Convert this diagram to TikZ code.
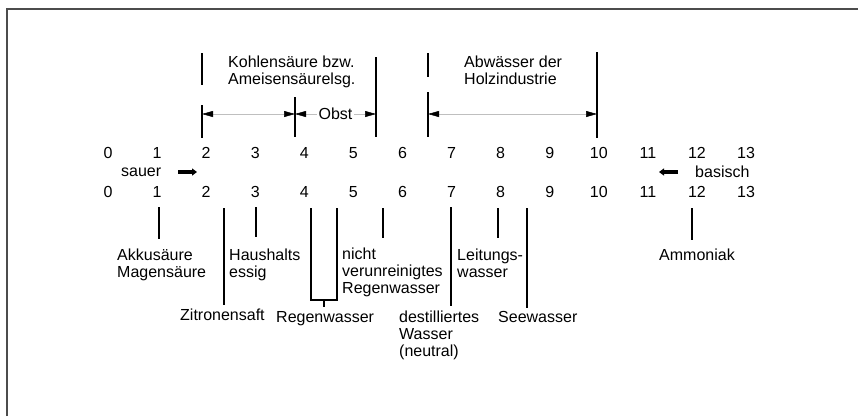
\documentclass[tikz,border=0pt]{standalone}
\usepackage{fontspec}
\setmainfont{Liberation Sans}
\usetikzlibrary{arrows.meta}
\begin{document}
\begin{tikzpicture}[x=1pt,y=-1pt,
  every node/.style={font=\fontsize{16}{17}\selectfont, inner sep=0pt, text=black},
  lbl/.style={align=left, anchor=north west},
  num/.style={anchor=center},
  conn/.style={line width=1.8pt, black},
  dim/.style={line width=0.5pt, black!25, {Triangle[length=11pt,width=6pt,color=black]}-{Triangle[length=11pt,width=6pt,color=black]}},
  thickarrow/.style={line width=3.5pt, -{Triangle[length=5pt,width=7pt]}}
]
\useasboundingbox (0,0) rectangle (858,416);
% frame
\draw[line width=2pt, black!70] (7,416) -- (7,9) -- (858,9);

% number rows
\foreach \p in {0,...,13} {
  \node[num] (t\p) at ({108+49.08*\p},153) {\p};
  \node[num] (b\p) at ({108+49.08*\p},192) {\p};
}

% sauer / basisch
\node[anchor=west] (sauer) at (121,172) {sauer};
\coordinate (sa1) at (178,172); \coordinate (sa2) at (197,172);
\draw[thickarrow] (sa1) -- (sa2);
\node[anchor=west] (basisch) at (695,172) {basisch};
\coordinate (ba1) at (678,172); \coordinate (ba2) at (659,172);
\draw[thickarrow] (ba1) -- (ba2);

% top labels
\node[lbl] (kohle) at (228,56) {Kohlensäure bzw.\\Ameisensäurelsg.};
\node[lbl] (abw) at (464,56) {Abwässer der\\Holzindustrie};

% top bracket lines
\draw[conn] (202,53) -- (202,85);
\draw[conn] (202,105) -- (202,138);
\draw[conn] (295,97) -- (295,137);
\draw[conn] (376,57) -- (376,137);
\draw[conn] (428,53) -- (428,77);
\draw[conn] (428,92) -- (428,137);
\draw[conn] (597,52) -- (597,138);

% dimension arrows
\coordinate (d1) at (202,114); \coordinate (d2) at (295,114);
\coordinate (d3) at (376,114); \coordinate (d4) at (428,114);
\coordinate (d5) at (597,114);
\draw[dim] (d1) -- (d2);
\draw[dim] (d2) -- node[fill=white, inner sep=2pt] (obst) {Obst} (d3);
\draw[dim] (d4) -- (d5);

% bottom labels
\node[lbl] (akku) at (117,249) {Akkusäure\\Magensäure};
\node[lbl] (essig) at (229,249) {Haushalts\\essig};
\node[lbl] (nicht) at (342,248) {nicht\\verunreinigtes\\Regenwasser};
\node[lbl] (leitung) at (457,249) {Leitungs-\\wasser};
\node[lbl] (ammon) at (659,249) {Ammoniak};
\node[lbl] (zitrone) at (180,309) {Zitronensaft};
\node[lbl] (regen) at (276,311) {Regenwasser};
\node[lbl] (dest) at (399,311) {destilliertes\\Wasser\\(neutral)};
\node[lbl] (see) at (498,311) {Seewasser};

% bottom connectors
\coordinate (c1) at (159,207);
\draw[conn] (c1) -- (c1 |- 0,239);
\coordinate (c2) at (224,208);
\draw[conn] (c2) -- (c2 |- 0,305);
\coordinate (c3) at (256,207);
\draw[conn] (c3) -- (c3 |- 0,237);
\coordinate (r1) at (311,208); \coordinate (r2) at (337,208);
\draw[conn] (r1) -- (311,300) -- (337,300) -- (r2);
\coordinate (r3) at (324,300);
\draw[conn] (r3) -- (324,307);
\coordinate (c4) at (383,208);
\draw[conn] (c4) -- (c4 |- 0,238);
\coordinate (c5) at (451,207);
\draw[conn] (c5) -- (c5 |- 0,306);
\coordinate (c6) at (498,208);
\draw[conn] (c6) -- (c6 |- 0,238);
\coordinate (c7) at (527,208);
\draw[conn] (c7) -- (c7 |- 0,308);
\coordinate (c8) at (692,208);
\draw[conn] (c8) -- (c8 |- 0,240);
\end{tikzpicture}
\end{document}
